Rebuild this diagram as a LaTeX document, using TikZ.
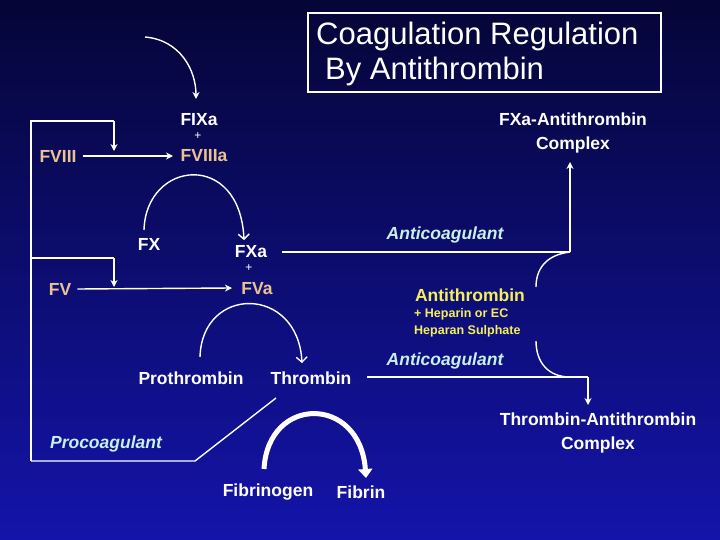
\documentclass[tikz,border=0pt]{standalone}
\usepackage{fontspec}
\setmainfont{Liberation Sans}
\usetikzlibrary{arrows.meta}
\definecolor{tan}{RGB}{235,195,145}
\definecolor{cyanl}{RGB}{200,240,235}
\definecolor{yel}{RGB}{245,240,90}
\begin{document}
\begin{tikzpicture}[x=1pt,y=-1pt,
  lab/.style={text=white,font=\bfseries\fontsize{17.5}{24}\selectfont,inner sep=0pt,align=center},
  tanlab/.style={lab,text=tan},
  ital/.style={text=cyanl,font=\bfseries\itshape\fontsize{17.5}{20}\selectfont,inner sep=0pt},
  pl/.style={text=white,font=\fontsize{12}{13}\selectfont,inner sep=0pt},
  ln/.style={draw=white,line width=1.4pt},
  arr/.style={ln,-{Stealth[length=7pt,width=7pt]}},
  varr/.style={ln,-{Straight Barb[length=5pt,width=11pt]}}]
\shade[top color={rgb,255:red,5;green,5;blue,55},bottom color={rgb,255:red,20;green,20;blue,170}] (0,0) rectangle (720,540);
\useasboundingbox (0,0) rectangle (720,540);
% title
\node[draw=white,line width=1.4pt,minimum width=353pt,minimum height=79pt,inner sep=0pt] (title) at (484.5,52.5) {};
\node[text=white,font=\fontsize{31}{35}\selectfont,align=left,anchor=west,inner sep=0pt] (tt) at (316,54) {Coagulation Regulation\\\hspace*{9pt}By Antithrombin};
% labels
\node[lab] (fixa) at (199,120) {FIXa};
\node[pl] (p1) at (198,136) {+};
\node[tanlab] (fviii) at (58,156) {FVIII};
\node[tanlab] (fviiia) at (204,156) {FVIIIa};
\node[lab] (fx) at (149,244) {FX};
\node[lab] (fxa) at (251,252) {FXa};
\node[pl] (p2) at (249,268) {+};
\node[tanlab] (fv) at (60,289) {FV};
\node[tanlab] (fva) at (257,289) {FVa};
\node[lab] (pro) at (191,378) {Prothrombin};
\node[lab] (thr) at (311,378) {Thrombin};
\node[lab] (fbg) at (268,492) {Fibrinogen};
\node[lab] (fbn) at (361,492) {Fibrin};
\node[lab] (fxac) at (573,133) {FXa-Antithrombin\\Complex};
\node[lab] (tac) at (598,433) {Thrombin-Antithrombin\\Complex};
\node[ital] (ac1) at (445,235) {Anticoagulant};
\node[ital] (ac2) at (445,361) {Anticoagulant};
\node[ital] (proc) at (106,444) {Procoagulant};
\node[text=yel,font=\bfseries\fontsize{17.5}{20}\selectfont,inner sep=0pt] (at) at (470,295) {Antithrombin};
\node[text=yel,font=\bfseries\fontsize{12.5}{17}\selectfont,inner sep=0pt,anchor=west,align=left] (hep) at (414,323) {+ Heparin or EC\\Heparan Sulphate};
% coordinates
\coordinate (ts) at (145,37); \coordinate (te) at (196,99);
\coordinate (l1) at (31,121); \coordinate (l1b) at (114,121); \coordinate (l1e) at (114,151);
\coordinate (l2) at (31,258); \coordinate (l2b) at (114,258); \coordinate (l2e) at (114,287);
\coordinate (lb) at (31,461); \coordinate (lc) at (195,461); \coordinate (ld) at (276,398);
\coordinate (xs) at (282,252); \coordinate (xc) at (570,252); \coordinate (xe) at (570,162);
\coordinate (c1e) at (536,287); \coordinate (c2s) at (536,341); \coordinate (c2e) at (570,377);
\coordinate (ys) at (367,377); \coordinate (yc) at (588,377); \coordinate (ye) at (588,405);
% connectors
\draw[arr] (ts) .. controls (180,40) and (196,70) .. (te);
\draw[arr] (fviii.east)+(6,0) -- (173,156);
\draw[ln] (lb) -- (l1) -- (l1b); \draw[arr] (l1b) -- (l1e);
\draw[ln] (l2) -- (l2b); \draw[arr] (l2b) -- (l2e);
\draw[ln] (lb) -- (lc) -- (ld);
\draw[arr] (fv.east)+(6,0) -- (232,288);
\draw[varr] (144,230) .. controls (146,160) and (240,150) .. (244,240);
\draw[varr] (200,357) .. controls (202,285) and (298,285) .. (302,363);
\draw[draw=white,line width=5pt,-{Triangle[length=9pt,width=14pt]}] (264,469) .. controls (268,395) and (360,395) .. (366,478);
\draw[ln] (xs) -- (xc); \draw[arr] (xc) -- (xe);
\draw[ln] (xc) .. controls (545,255) and (536,270) .. (c1e);
\draw[ln] (c2s) .. controls (536,362) and (548,377) .. (c2e);
\draw[ln] (ys) -- (yc); \draw[arr] (yc) -- (ye);
\end{tikzpicture}
\end{document}
